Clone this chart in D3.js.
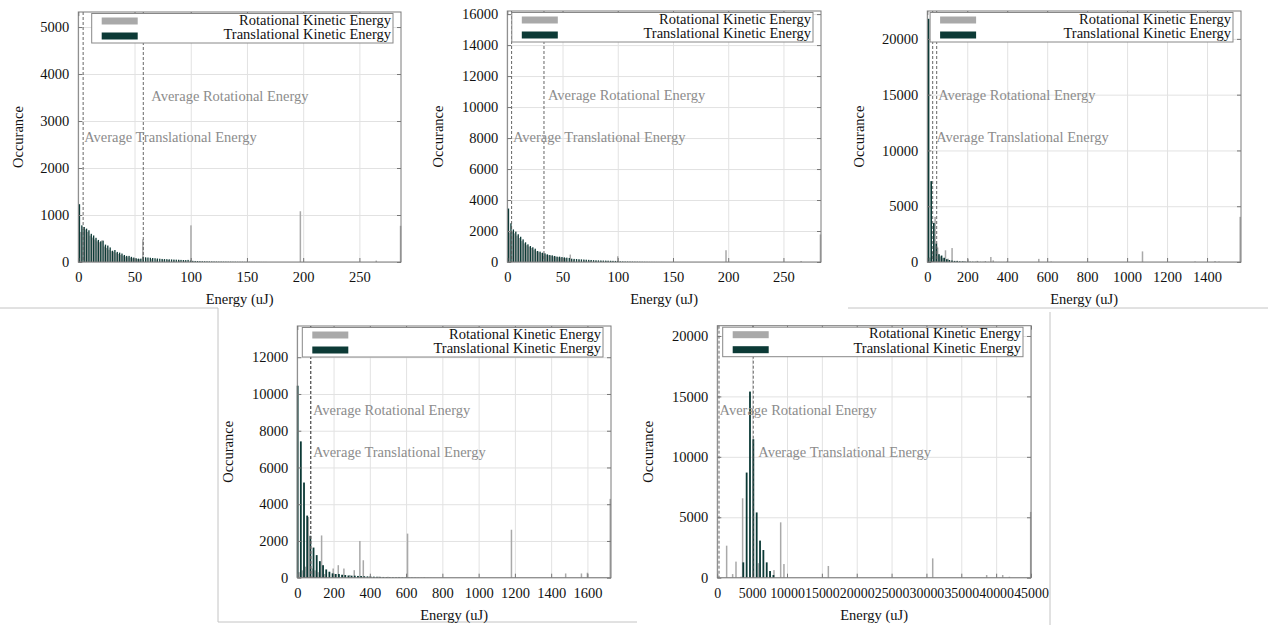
<!DOCTYPE html>
<html><head><meta charset="utf-8">
<script src="https://cdn.jsdelivr.net/npm/d3@7"></script>
<style>
body{margin:0;background:#fff;}
svg{display:block;}
text{font-family:"Liberation Serif","DejaVu Serif",serif;}
</style>
</head><body>
<svg id="c" width="1273" height="625"></svg>
<script>
// ---------------- data ----------------
const legendLabels = ["Rotational Kinetic Energy", "Translational Kinetic Energy"];
const avgLabels = ["Average Rotational Energy", "Average Translational Energy"];
const xTitle = "Energy (uJ)";
const yTitle = "Occurance";

// panel 1
const p1XTicks = [0, 50, 100, 150, 200, 250];
const p1YTicks = [0, 1000, 2000, 3000, 4000, 5000];
const p1Domain = [287, 5320];
const p1TransBins = [1.05, 2.1]; // first bin centre, bin width (uJ)
const p1Trans = [1230,780,745,710,675,600,565,515,470,440,455,370,350,310,240,255,215,200,180,150,130,130,110,95,80,72,72,110,100,95,90,85,80,75,70,65,62,60,57,55,52,50,48,45,42,40,45,30,25,22,20,18,16,15,14,12,11,10,9,8,8,7,7,6,6,5,5,4,4,4,3,3,3,2,2,2,2,1,1,1];
const p1Rot = [[2.1,640],[4.2,700],[6.3,690],[8.4,640],[10.5,560],[12.6,520],[14.7,480],[16.8,440],[18.9,420],[21,460],[23.1,330],[25.2,300],[27.3,260],[29.4,230],[31.5,215],[33.6,190],[35.7,170],[37.8,150],[39.9,130],[42,115],[44.1,100],[46.2,90],[48.3,80],[50.4,70],[52.5,65],[54.6,60],[57.4,480],[60,80],[65,60],[70,50],[75,45],[80,40],[85,35],[90,30],[95,30],[100.2,780],[197.5,1080],[265,30],[286.6,770]];
const p1Avg = [57.8, 4.3]; // rotational, translational

// panel 2
const p2XTicks = [0, 50, 100, 150, 200, 250];
const p2YTicks = [0, 2000, 4000, 6000, 8000, 10000, 12000, 14000, 16000];
const p2Domain = [284, 16200];
const p2TransBins = [1.1, 2.2];
const p2Trans = [3450,2500,2100,1960,1790,1630,1460,1270,1140,1030,950,860,710,670,600,560,495,450,430,390,345,345,320,300,280,260,215,200,190,180,170,160,150,140,130,120,110,105,100,95,90,85,80,75,70,65,40,35,30,28,25,22,20,18,15,12,10,8,6,5,4,3,2,2,1];
const p2Rot = [[2.2,1900],[4.4,1950],[6.6,1850],[8.8,1700],[11,1550],[13.2,1350],[15.4,1200],[17.6,1080],[19.8,980],[22,900],[24.2,780],[26.4,690],[28.6,630],[30.8,580],[33,520],[35.2,470],[37.4,440],[39.6,400],[41.8,360],[44,340],[46.2,310],[48.4,290],[50.6,270],[52.8,250],[57,480],[60,150],[65,120],[70,100],[75,80],[80,70],[85,60],[90,50],[95,40],[100,370],[198,760],[266,60],[283.5,1780]];
const p2Avg = [33.2, 3.9];

// panel 3
const p3XTicks = [0, 200, 400, 600, 800, 1000, 1200, 1400];
const p3YTicks = [0, 5000, 10000, 15000, 20000];
const p3Domain = [1570, 22500];
const p3TransBins = [6.5, 13];
const p3Trans = [21800,7250,3500,1650,700,580,380,250,180,130,100,80,60,50,40,35,30,25,20,18,15,12,10,8,6,5,4,3,2,2];
const p3Rot = [[13,400],[26,900],[39,4050],[52,1300],[65,500],[78,350],[91,1050],[104,300],[124,1250],[150,120],[180,80],[204,250],[250,100],[290,80],[318,450],[330,150],[400,60],[558,280],[620,40],[1077,950],[1340,50],[1440,80],[1460,40],[1566,4050]];
const p3Avg = [47, 27];

// panel 4
const p4XTicks = [0, 200, 400, 600, 800, 1000, 1200, 1400, 1600];
const p4YTicks = [0, 2000, 4000, 6000, 8000, 10000, 12000];
const p4Domain = [1730, 13700];
const p4TransBins = [2, 17.5];
const p4Trans = [10450,7420,5180,3380,2280,1640,1230,900,680,450,325,235,200,200,160,145,120,110,110,95,90,80,70,60,55,50,45,40,35,30,28,25,22,20,18,15,12,10,8,6,5,4,3,2];
const p4Rot = [[10,300],[28,400],[45,600],[61,3300],[83,500],[98,400],[115,300],[134,2300],[150,200],[198,500],[226,680],[257,500],[290,150],[314,410],[345,2000],[364,950],[400,80],[450,60],[500,50],[560,40],[608,2400],[700,30],[1181,2610],[1480,230],[1567,230],[1600,270],[1726,4290]];
const p4Avg = [75, 73];

// panel 5
const p5XTicks = [0, 5000, 10000, 15000, 20000, 25000, 30000, 35000, 40000, 45000];
const p5YTicks = [0, 5000, 10000, 15000, 20000];
const p5Domain = [45000, 20850];
const p5TransBins = [3730, 480];
const p5Trans = [1270,8700,15400,11460,5400,3070,2290,1270,550,220];
const p5Rot = [[1340,2650],[2200,300],[2680,1330],[3400,80],[3630,6570],[5880,1200],[7560,550],[8130,630],[9090,4580],[9560,1130],[15930,970],[30900,1600],[38640,220],[40940,220],[41900,80],[44950,5440]];
const p5Avg = [245, 5160];

// ---------------- layout ----------------
const panels = [
  {xt:p1XTicks, yt:p1YTicks, dom:p1Domain, tb:p1TransBins, tr:p1Trans, rot:p1Rot, avg:p1Avg,
   box:[78.3,12,401,262], legInset:13.4, yTitleOff:60, labDx:[8,1], bw:1.3, xfs:14.5},
  {xt:p2XTicks, yt:p2YTicks, dom:p2Domain, tb:p2TransBins, tr:p2Trans, rot:p2Rot, avg:p2Avg,
   box:[507.3,11,821,262], legInset:4.5, yTitleOff:69, labDx:[4,1.3], bw:1.3, xfs:14.5},
  {xt:p3XTicks, yt:p3YTicks, dom:p3Domain, tb:p3TransBins, tr:p3Trans, rot:p3Rot, avg:p3Avg,
   box:[927.3,11,1241,262], legInset:2.8, yTitleOff:68, labDx:[1.5,3.5], bw:1.6, xfs:14.5},
  {xt:p4XTicks, yt:p4YTicks, dom:p4Domain, tb:p4TransBins, tr:p4Trans, rot:p4Rot, avg:p4Avg,
   box:[297.3,326,611,577.7], legInset:5, yTitleOff:69, labDx:[2,2.5], bw:1.8, xfs:14.5},
  {xt:p5XTicks, yt:p5YTicks, dom:p5Domain, tb:p5TransBins, tr:p5Trans, rot:p5Rot, avg:p5Avg,
   box:[717.3,325.7,1031,577.7], legInset:5.4, yTitleOff:69, labDx:[0.5,5], bw:1.8, xfs:13.9}
];

const COL_ROT = "#a9a9a9";
const COL_TR = "#0c3a36";
const FS = 14.5;
const fmt = d3.format("d");

const svg = d3.select("#c");

// screenshot frame lines
const frames = [[0,308,218,308],[218,308,218,622],[218,622,637,622],[848,308,1268,308],[1050,312,1050,625]];
svg.selectAll("line.frame").data(frames).enter().append("line")
  .attr("x1",d=>d[0]).attr("y1",d=>d[1]).attr("x2",d=>d[2]).attr("y2",d=>d[3])
  .attr("stroke","#c4c4c4").attr("stroke-width",1);

panels.forEach(p => {
  const [L,T,R,B] = p.box;
  const w = R-L, h = B-T;
  const x = d3.scaleLinear().domain([0,p.dom[0]]).range([0,w]);
  const y = d3.scaleLinear().domain([0,p.dom[1]]).range([h,0]);
  const g = svg.append("g").attr("transform",`translate(${L},${T})`);

  // grid
  const gx = g.append("g").attr("transform",`translate(0,${h})`)
    .call(d3.axisBottom(x).tickValues(p.xt).tickSize(-h).tickFormat(""));
  gx.select(".domain").remove();
  gx.selectAll("line").attr("stroke","#e2e2e2");
  const gy = g.append("g").call(d3.axisLeft(y).tickValues(p.yt).tickSize(-w).tickFormat(""));
  gy.select(".domain").remove();
  gy.selectAll("line").attr("stroke","#e2e2e2");

  // rotational bars (gray)
  g.selectAll("rect.rot").data(p.rot).enter().append("rect")
    .attr("x",d=>x(d[0])-0.75).attr("width",1.5)
    .attr("y",d=>y(d[1])).attr("height",d=>h-y(d[1]))
    .attr("fill",COL_ROT);
  // translational bars (dark)
  g.selectAll("rect.tr").data(p.tr).enter().append("rect")
    .attr("x",(d,i)=>x(p.tb[0]+i*p.tb[1])-p.bw/2).attr("width",p.bw)
    .attr("y",d=>y(d)).attr("height",d=>h-y(d))
    .attr("fill",COL_TR);

  // average lines
  p.avg.forEach(a => {
    g.append("line").attr("x1",x(a)).attr("x2",x(a)).attr("y1",0).attr("y2",h)
      .attr("stroke","#555").attr("stroke-width",0.9).attr("stroke-dasharray","3,2");
  });
  // average labels
  const labY = [h*(1-0.665), h*0.5];
  avgLabels.forEach((t,i) => {
    g.append("text").attr("x",x(p.avg[i])+p.labDx[i]).attr("y",labY[i]).attr("dy","0.35em")
      .attr("font-size",FS).attr("fill","#8c8c8c").text(t);
  });

  // axes
  const ax = g.append("g").attr("transform",`translate(0,${h})`)
    .call(d3.axisBottom(x).tickValues(p.xt).tickFormat(fmt).tickSizeInner(-4).tickSizeOuter(0).tickPadding(10));
  ax.select(".domain").remove();
  ax.selectAll("line").attr("stroke","#777");
  ax.selectAll("text").attr("font-size",p.xfs).attr("fill","#111").attr("font-family",'"Liberation Serif",serif');
  const ay = g.append("g")
    .call(d3.axisLeft(y).tickValues(p.yt).tickFormat(fmt).tickSizeInner(-4).tickSizeOuter(0).tickPadding(9));
  ay.select(".domain").remove();
  ay.selectAll("line").attr("stroke","#777");
  ay.selectAll("text").attr("font-size",FS).attr("fill","#111").attr("font-family",'"Liberation Serif",serif');
  // mirrored ticks
  const axT = g.append("g").call(d3.axisTop(x).tickValues(p.xt).tickSizeInner(-4).tickSizeOuter(0).tickFormat(""));
  axT.select(".domain").remove(); axT.selectAll("line").attr("stroke","#777");
  const ayR = g.append("g").attr("transform",`translate(${w},0)`)
    .call(d3.axisRight(y).tickValues(p.yt).tickSizeInner(-4).tickSizeOuter(0).tickFormat(""));
  ayR.select(".domain").remove(); ayR.selectAll("line").attr("stroke","#777");

  // frame
  g.append("rect").attr("width",w).attr("height",h).attr("fill","none")
    .attr("stroke","#7a7a7a").attr("stroke-width",1);

  // legend
  const lx = p.legInset, lw = w - p.legInset - 8, ly = 1.5, lh = 29.5;
  const lg = g.append("g").attr("transform",`translate(${lx},${ly})`);
  lg.append("rect").attr("width",lw).attr("height",lh).attr("fill","#fff")
    .attr("stroke","#888").attr("stroke-width",1);
  [COL_ROT, COL_TR].forEach((c,i) => {
    lg.append("rect").attr("x",10).attr("y",4+i*15).attr("width",36).attr("height",7).attr("fill",c);
    lg.append("text").attr("x",lw-2).attr("y",11+i*14.5).attr("text-anchor","end")
      .attr("font-size",FS).attr("fill","#111").text(legendLabels[i]);
  });

  // titles
  g.append("text").attr("x",w/2).attr("y",h+42).attr("text-anchor","middle")
    .attr("font-size",FS).attr("fill","#111").text(xTitle);
  g.append("text").attr("transform",`translate(${-p.yTitleOff},${h/2}) rotate(-90)`)
    .attr("text-anchor","middle").attr("dy","0.35em")
    .attr("font-size",FS).attr("fill","#111").text(yTitle);
});
</script>
</body></html>
